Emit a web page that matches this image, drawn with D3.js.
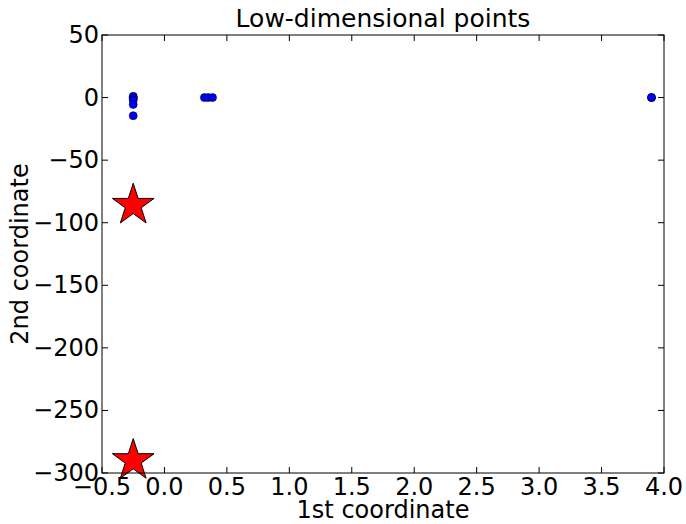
<!DOCTYPE html>
<html><head><meta charset="utf-8">
<script src="https://cdn.jsdelivr.net/npm/d3@7/dist/d3.min.js"></script>
<style>body{margin:0;background:#fff}svg{display:block}text{font-family:"DejaVu Sans",sans-serif}</style>
</head><body><svg id="c" width="686" height="524"></svg>
<script>
const pointsX = [-0.25, -0.25, -0.25, -0.25, -0.25, -0.25, 0.32, 0.35, 0.385, 3.9, 3.9];
const pointsY = [0, 1, -1, -2, -5.5, -14.5, 0, 0, 0, 0, 0];
const starsX = [-0.25, -0.25];
const starsY = [-86, -290];
const xTicks = [-0.5, 0.0, 0.5, 1.0, 1.5, 2.0, 2.5, 3.0, 3.5, 4.0];
const yTicks = [50, 0, -50, -100, -150, -200, -250, -300];

const svg = d3.select("#c");
const L = 102, R = 664, T = 35, B = 473;
const x = d3.scaleLinear().domain([-0.5, 4.0]).range([L, R]);
const y = d3.scaleLinear().domain([-300, 50]).range([B, T]);

const g = svg.append("g");
g.selectAll("circle").data(pointsX.map((v,i)=>[v,pointsY[i]])).enter().append("circle")
  .attr("cx", d=>x(d[0])).attr("cy", d=>y(d[1])).attr("r", 4)
  .attr("fill", "#0000ff").attr("stroke", "#000").attr("stroke-width", 0.6);
const star = d3.symbol().type(d3.symbolStar).size(540);
g.selectAll("path.star").data(starsX.map((v,i)=>[v,starsY[i]])).enter().append("path")
  .attr("class","star").attr("d", star)
  .attr("transform", d=>`translate(${x(d[0])},${y(d[1])})`)
  .attr("fill", "#ff0000").attr("stroke", "#000").attr("stroke-width", 1);

const tl = 6, fs = 24;
const ax = svg.append("g");
xTicks.forEach(t=>{
  const px = x(t);
  ax.append("line").attr("x1",px).attr("x2",px).attr("y1",B).attr("y2",B-tl).attr("stroke","#000");
  ax.append("line").attr("x1",px).attr("x2",px).attr("y1",T).attr("y2",T+tl).attr("stroke","#000");
  ax.append("text").attr("x",px).attr("y",B+22).attr("text-anchor","middle").attr("font-size",fs)
    .text(t < 0 ? "\u2212" + Math.abs(t).toFixed(1) : t.toFixed(1));
});
yTicks.forEach(t=>{
  const py = y(t);
  ax.append("line").attr("x1",L).attr("x2",L+tl).attr("y1",py).attr("y2",py).attr("stroke","#000");
  ax.append("line").attr("x1",R).attr("x2",R-tl).attr("y1",py).attr("y2",py).attr("stroke","#000");
  ax.append("text").attr("x",L-3).attr("y",py+8).attr("text-anchor","end").attr("font-size",fs)
    .text(t < 0 ? "\u2212" + Math.abs(t) : t);
});
ax.append("rect").attr("x",L).attr("y",T).attr("width",R-L).attr("height",B-T)
  .attr("fill","none").attr("stroke","#000").attr("stroke-width",1);

svg.append("text").attr("x",(L+R)/2).attr("y",27).attr("text-anchor","middle").attr("font-size",25)
  .text("Low-dimensional points");
svg.append("text").attr("x",(L+R)/2).attr("y",518).attr("text-anchor","middle").attr("font-size",fs)
  .text("1st coordinate");
svg.append("text").attr("transform",`translate(28,${(T+B)/2}) rotate(-90)`).attr("text-anchor","middle").attr("font-size",fs)
  .text("2nd coordinate");
</script></body></html>
